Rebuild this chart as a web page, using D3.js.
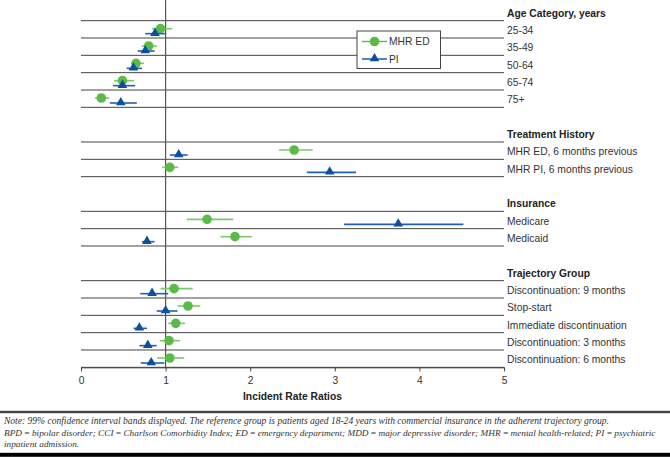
<!DOCTYPE html>
<html>
<head>
<meta charset="utf-8">
<script src="https://cdn.jsdelivr.net/npm/d3@7"></script>
<style>
  html, body { margin: 0; padding: 0; background: #fff; }
  svg { display: block; }
</style>
</head>
<body>
<svg id="chart" width="670" height="458"></svg>
<script>
// ---------------- data ----------------
const groups = ["Age Category, years", "Treatment History", "Insurance", "Trajectory Group"];
const categories = [
  "25-34", "35-49", "50-64", "65-74", "75+",
  "MHR ED, 6 months previous", "MHR PI, 6 months previous",
  "Medicare", "Medicaid",
  "Discontinuation: 9 months", "Stop-start", "Immediate discontinuation",
  "Discontinuation: 3 months", "Discontinuation: 6 months"
];
const categoryGroup = [0, 0, 0, 0, 0, 1, 1, 2, 2, 3, 3, 3, 3, 3];
const seriesNames = ["MHR ED", "PI"];

const edIRR  = [0.94, 0.80, 0.65, 0.49, 0.24, 2.52, 1.05, 1.49, 1.82, 1.10, 1.265, 1.12, 1.04, 1.05];
const edLow  = [0.84, 0.72, 0.59, 0.39, 0.165, 2.34, 0.96, 1.25, 1.65, 0.94, 1.14, 1.03, 0.93, 0.90];
const edHigh = [1.08, 0.90, 0.745, 0.63, 0.335, 2.74, 1.15, 1.80, 2.02, 1.32, 1.41, 1.23, 1.17, 1.22];

const piIRR  = [0.875, 0.76, 0.62, 0.49, 0.47, 1.155, 2.94, 3.75, 0.78, 0.84, 1.00, 0.69, 0.79, 0.83];
const piLow  = [0.76, 0.67, 0.54, 0.38, 0.34, 1.05, 2.67, 3.11, 0.72, 0.70, 0.895, 0.62, 0.69, 0.705];
const piHigh = [1.00, 0.87, 0.72, 0.64, 0.66, 1.26, 3.25, 4.52, 0.87, 1.03, 1.14, 0.78, 0.895, 0.985];

const xTicks = [0, 1, 2, 3, 4, 5];
const xTitle = "Incident Rate Ratios";
const noteLines = [
  "Note: 99% confidence interval bands displayed. The reference group is patients aged 18-24 years with commercial insurance in the adherent trajectory group.",
  "BPD\u2009=\u2009bipolar disorder; CCI\u2009=\u2009Charlson Comorbidity Index; ED\u2009=\u2009emergency department; MDD\u2009=\u2009major depressive disorder; MHR\u2009=\u2009mental health-related; PI\u2009=\u2009psychiatric",
  "inpatient admission."
];

// ---------------- layout ----------------
const svg = d3.select("#chart");
const W = 670, H = 458;
const plotLeft = 81, plotRight = 504;
const GREEN = "#5cbb48", GREEN_LINE = "#7cc96b";
const BLUE = "#0c4f9f", BLUE_LINE = "#2060b0";
const LINE = "#444";
const SANS = "'Liberation Sans', Arial, Helvetica, sans-serif";
const SERIF = "'Liberation Serif', 'Times New Roman', serif";
const LABEL_SIZE = 10.3;

// compute slot positions (header rows + gaps)
const rowSlot = [];
const headerSlot = [];
let slot = -1;
groups.forEach((gname, gi) => {
  if (gi > 0) slot += 1;           // gap row
  headerSlot.push(slot);
  slot += 1;
  categories.forEach((c, ci) => {
    if (categoryGroup[ci] === gi) { rowSlot[ci] = slot; slot += 1; }
  });
});
const totalSlots = slot;

const x = d3.scaleLinear().domain([0, 5]).range([plotLeft, plotRight]);
const y = d3.scaleLinear().domain([0, totalSlots]).range([20.667, 367.333]);
const step = y(1) - y(0);

const g = svg.append("g");

// horizontal row lines per group
groups.forEach((gname, gi) => {
  const slots = rowSlot.filter((s, ci) => categoryGroup[ci] === gi);
  const first = d3.min(slots), last = d3.max(slots);
  d3.range(first, last + 2).forEach(s => {
    g.append("line")
      .attr("x1", plotLeft).attr("x2", plotRight)
      .attr("y1", y(s)).attr("y2", y(s))
      .attr("stroke", LINE).attr("stroke-width", 1);
  });
});

// reference line at IRR = 1
g.append("line")
  .attr("x1", x(1)).attr("x2", x(1))
  .attr("y1", 0).attr("y2", y(totalSlots))
  .attr("stroke", "#555").attr("stroke-width", 1.2);

// x axis
const axis = d3.axisBottom(x).tickValues(xTicks).tickSize(4).tickSizeOuter(0).tickFormat(d3.format("d"));
const axG = g.append("g").attr("transform", `translate(0,${y(totalSlots)})`).call(axis);
axG.select(".domain").attr("stroke", LINE);
axG.selectAll(".tick line").attr("stroke", LINE);
axG.selectAll(".tick text").attr("font-family", SANS).attr("font-size", LABEL_SIZE).attr("fill", "#333").attr("dy", "0.9em");

g.append("text")
  .attr("x", (plotLeft + plotRight) / 2).attr("y", 400)
  .attr("text-anchor", "middle")
  .attr("font-family", SANS).attr("font-size", LABEL_SIZE).attr("font-weight", "bold").attr("fill", "#222")
  .text(xTitle);

// right-hand labels
groups.forEach((gname, gi) => {
  g.append("text")
    .attr("x", plotRight + 3).attr("y", y(headerSlot[gi]) + step / 2 + 4.6)
    .attr("font-family", SANS).attr("font-size", LABEL_SIZE).attr("font-weight", "bold").attr("fill", "#222")
    .text(gname);
});
categories.forEach((c, ci) => {
  g.append("text")
    .attr("x", plotRight + 3).attr("y", y(rowSlot[ci]) + step / 2 + 4.8)
    .attr("font-family", SANS).attr("font-size", LABEL_SIZE).attr("fill", "#333")
    .text(c);
});

// MHR ED series (circles)
const edOff = 8, piOff = 13;
categories.forEach((c, ci) => {
  const yy = y(rowSlot[ci]) + edOff;
  g.append("line")
    .attr("x1", x(edLow[ci])).attr("x2", x(edHigh[ci]))
    .attr("y1", yy).attr("y2", yy)
    .attr("stroke", GREEN_LINE).attr("stroke-width", 1.6);
  g.append("circle")
    .attr("cx", x(edIRR[ci])).attr("cy", yy).attr("r", 4.8)
    .attr("fill", GREEN);
});
// PI series (triangles)
const tri = d3.symbol().type(d3.symbolTriangle).size(40);
categories.forEach((c, ci) => {
  const yy = y(rowSlot[ci]) + piOff;
  g.append("line")
    .attr("x1", x(piLow[ci])).attr("x2", x(piHigh[ci]))
    .attr("y1", yy).attr("y2", yy)
    .attr("stroke", BLUE_LINE).attr("stroke-width", 1.6);
  g.append("path")
    .attr("d", tri())
    .attr("transform", `translate(${x(piIRR[ci])},${yy - 0.5})`)
    .attr("fill", BLUE);
});

// legend
const lg = g.append("g").attr("transform", "translate(357,31)");
lg.append("rect").attr("x", 0).attr("y", 0).attr("width", 83.5).attr("height", 37.5)
  .attr("fill", "#fff").attr("stroke", LINE).attr("stroke-width", 1);
seriesNames.forEach((s, i) => {
  const ly = 10.5 + i * 17.5;
  lg.append("line").attr("x1", 5).attr("x2", 30).attr("y1", ly).attr("y2", ly)
    .attr("stroke", i === 0 ? GREEN : BLUE).attr("stroke-width", 1.4);
  if (i === 0) {
    lg.append("circle").attr("cx", 17.5).attr("cy", ly).attr("r", 4.8).attr("fill", GREEN);
  } else {
    lg.append("path").attr("d", tri()).attr("transform", `translate(17.5,${ly - 0.5})`).attr("fill", BLUE);
  }
  lg.append("text").attr("x", 32).attr("y", ly + 3.7)
    .attr("font-family", SANS).attr("font-size", LABEL_SIZE).attr("fill", "#333").text(s);
});

// note section
g.append("rect").attr("x", 0).attr("y", 410.8).attr("width", W).attr("height", 2.4).attr("fill", "#444");
const noteY = [424, 435.5, 446.5];
const noteTarget = [606, 652];
const noteTexts = noteLines.map((t, i) => g.append("text").attr("x", 4).attr("y", noteY[i])
    .attr("font-family", SERIF).attr("font-style", "italic").attr("font-size", 10).attr("fill", "#333")
    .text(t));
// size each note line so it spans the same width as in the reference
const sizes = noteTarget.map((w, i) => 10 * w / noteTexts[i].node().getComputedTextLength());
const noteSize = Math.min(sizes[0], sizes[1]);
noteTexts.forEach((tx, i) => tx.attr("font-size", i < 2 ? sizes[i] : sizes[1]));
g.append("rect").attr("x", 0).attr("y", 452.8).attr("width", W).attr("height", 4).attr("fill", "#000");
</script>
</body>
</html>
